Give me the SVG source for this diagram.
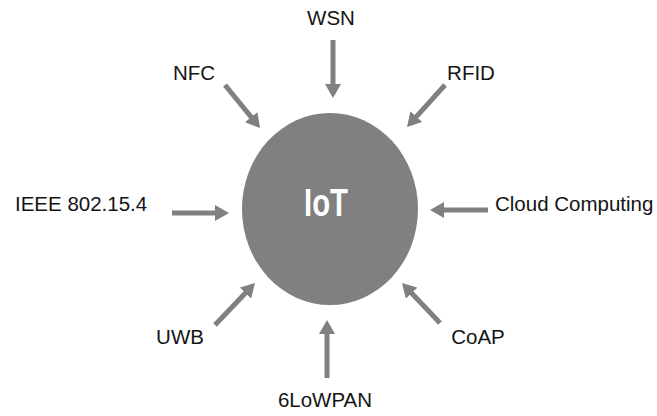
<svg xmlns="http://www.w3.org/2000/svg" width="657" height="416" viewBox="0 0 657 416">
<style>
.lbl{font-family:"Liberation Sans",Arial,sans-serif;font-size:20.5px;fill:#141414}
.arr{stroke:#808080;stroke-width:5;fill:none;marker-end:url(#ah)}
</style>
<defs>
<marker id="ah" markerUnits="userSpaceOnUse" markerWidth="14" markerHeight="16" viewBox="0 0 14 16" refX="4" refY="8" orient="auto">
<path d="M0,0 L14,8 L0,16 z" fill="#808080"/>
</marker>
</defs>
<rect width="657" height="416" fill="#fff"/>
<g id="iot">
<ellipse cx="330" cy="209" rx="88" ry="96" fill="#808080"/>
<text x="326" y="216" text-anchor="middle" font-family="Liberation Sans,Arial,sans-serif" font-weight="bold" font-size="39" fill="#fff" textLength="44" lengthAdjust="spacingAndGlyphs">IoT</text>
</g>
<g id="connectors">
<line class="arr" x1="333" y1="40" x2="333" y2="88"/>
<line class="arr" x1="225" y1="85" x2="253.7" y2="120.2"/>
<line class="arr" x1="445" y1="85" x2="413.7" y2="119.6"/>
<line class="arr" x1="172" y1="213" x2="219" y2="213"/>
<line class="arr" x1="488" y1="210" x2="440" y2="210"/>
<line class="arr" x1="215" y1="325" x2="248.1" y2="290.2"/>
<line class="arr" x1="440" y1="323" x2="408.9" y2="290.3"/>
<line class="arr" x1="327" y1="378" x2="327" y2="330"/>
</g>
<g id="wsn"><text class="lbl" x="331" y="25" text-anchor="middle">WSN</text></g>
<g id="nfc"><text class="lbl" x="194" y="80" text-anchor="middle">NFC</text></g>
<g id="rfid"><text class="lbl" x="471" y="80" text-anchor="middle">RFID</text></g>
<g id="ieee"><text class="lbl" x="15" y="211">IEEE 802.15.4</text></g>
<g id="cloud"><text class="lbl" x="495" y="211">Cloud Computing</text></g>
<g id="uwb"><text class="lbl" x="180" y="344" text-anchor="middle">UWB</text></g>
<g id="coap"><text class="lbl" x="478" y="344" text-anchor="middle">CoAP</text></g>
<g id="sixlowpan"><text class="lbl" x="325" y="407" text-anchor="middle">6LoWPAN</text></g>
</svg>
